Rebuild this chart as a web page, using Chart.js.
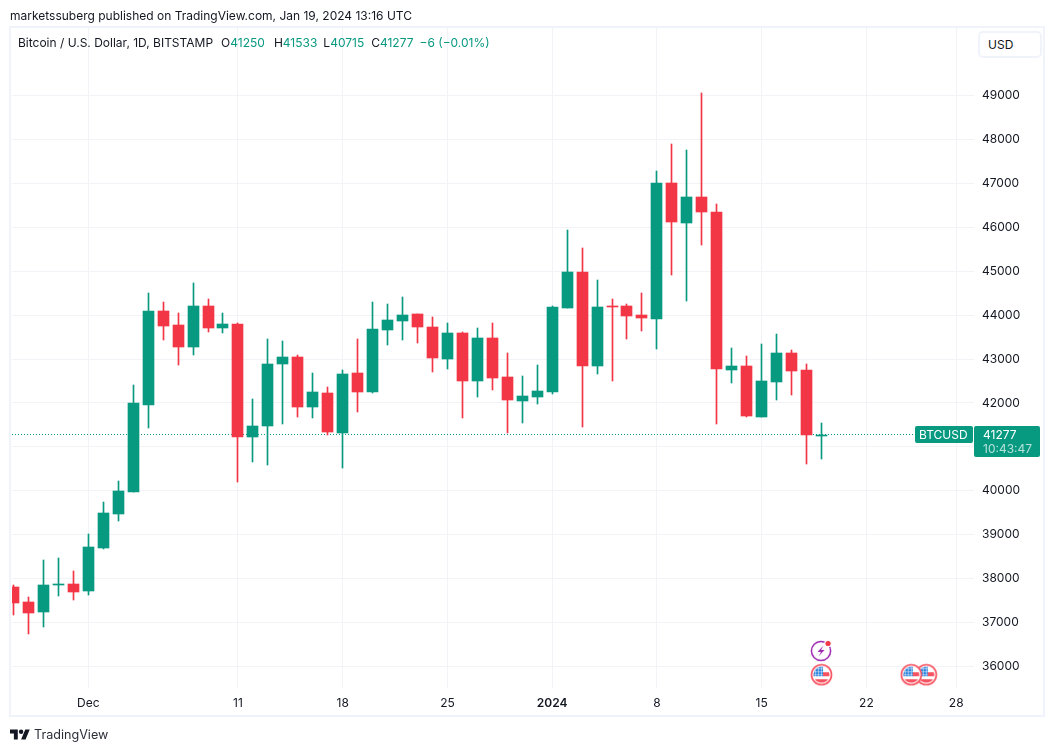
<!DOCTYPE html>
<html>
<head>
<meta charset="utf-8">
<title>BTCUSD</title>
<script src="https://cdn.jsdelivr.net/npm/chart.js@4"></script>
<style>
  html, body { margin: 0; padding: 0; background: #fff; }
  body { width: 1054px; height: 751px; position: relative; overflow: hidden; font-family: Inter, sans-serif; color: #131722; }
  canvas { position: absolute; left: 0; top: 0; }
  .frame { position: absolute; left: 9px; top: 26px; width: 1032px; height: 687px; border: 2px solid #f0f3fa; pointer-events: none; }
  .published { position: absolute; left: 10px; top: 8px; font-size: 12px; line-height: 16px; white-space: nowrap; }
  .legend { position: absolute; left: 18px; top: 35px; font-size: 12px; line-height: 16px; white-space: nowrap; }
  .legend b { font-weight: 400; margin-left: 7px; }
  .legend b:nth-child(1) { margin-left: 8px; }
  .legend b:nth-child(2) { margin-left: 9px; }
  .legend b:nth-child(3) { margin-left: 6px; }
  .legend b:nth-child(5) { margin-left: 6px; }
  .legend span { color: #089981; }
  .usd { position: absolute; left: 978px; top: 31px; width: 60px; height: 23px; border: 2px solid #f0f3fa; border-radius: 5px; background: #fff; font-size: 12px; line-height: 23px; text-indent: 8px; }
  .brand { position: absolute; left: 10px; top: 726px; height: 16px; display: flex; align-items: center; font-size: 12.6px; color: #2a2e39; }
  .brand svg { margin-right: 4px; }
</style>
</head>
<body>
<canvas id="chart" width="1054" height="751"></canvas>
<div class="frame"></div>
<div class="published">marketssuberg published on TradingView.com, Jan 19, 2024 13:16 UTC</div>
<div class="legend">Bitcoin / U.S. Dollar, 1D, BITSTAMP<b>O<span>41250</span></b><b>H<span>41533</span></b><b>L<span>40715</span></b><b>C<span>41277</span></b><b><span>−6 (−0.01%)</span></b></div>
<div class="usd">USD</div>
<div class="brand">
  <svg width="20" height="11" viewBox="0 4 36 18"><path fill="#131722" d="M14 22H7V11H0V4h14v18zM28 22h-8l7.5-18h8L28 22z"/><circle fill="#131722" cx="20" cy="8" r="4"/></svg>
  TradingView
</div>

<script>
const dates = ['Nov 26','Nov 27','Nov 28','Nov 29','Nov 30',
  'Dec 1','Dec 2','Dec 3','Dec 4','Dec 5','Dec 6','Dec 7','Dec 8','Dec 9','Dec 10',
  'Dec 11','Dec 12','Dec 13','Dec 14','Dec 15','Dec 16','Dec 17','Dec 18','Dec 19','Dec 20',
  'Dec 21','Dec 22','Dec 23','Dec 24','Dec 25','Dec 26','Dec 27','Dec 28','Dec 29','Dec 30','Dec 31',
  'Jan 1','Jan 2','Jan 3','Jan 4','Jan 5','Jan 6','Jan 7','Jan 8','Jan 9','Jan 10',
  'Jan 11','Jan 12','Jan 13','Jan 14','Jan 15','Jan 16','Jan 17','Jan 18','Jan 19',
  'Jan 20','Jan 21','Jan 22','Jan 23','Jan 24','Jan 25','Jan 26','Jan 27','Jan 28'];

const opens = [37812,37470,37242,37857,37880,37721,38700,39475,39976,41957,44099,43780,43279,44213,43711,
  43803,41229,41479,42891,43051,41912,42231,41320,42686,42254,43666,43871,44030,43734,43005,
  43598,42504,43484,42595,42049,42128,42242,44156,44976,42835,44201,44201,43996,43905,47003,
  46092,46684,46342,42743,42835,41673,42470,43131,42743,41250];
const highs = [37857,37584,38427,38472,38176,39019,39748,40226,42413,44509,44304,44053,44737,44372,44053,
  43825,42094,43461,43415,43096,42686,42368,42755,43461,44304,44258,44418,44030,43962,43825,
  43620,43711,43825,43142,42618,42857,44201,45932,45522,44793,44361,44247,44497,47276,47891,
  47755,49053,46525,43245,43062,43336,43563,43199,42880,41533];
const lows = [37174,36741,36901,37607,37516,37629,38677,39315,39976,41434,43438,42869,43096,43620,43598,
  40203,40659,40591,41525,41684,41661,41274,40522,41798,42231,43324,43438,43370,42709,42778,
  41661,42140,42299,41320,41547,41969,42197,44156,41445,42652,42493,43449,43632,43222,44907,
  44315,45591,41513,42447,41680,41673,42060,42174,40602,40715];
const closes = [37455,37220,37857,37885,37698,38723,39497,39999,42003,44099,43757,43279,44213,43711,43803,
  41229,41479,42891,43051,41912,42254,41342,42664,42254,43689,43894,44008,43734,43028,43598,
  42504,43484,42573,42071,42162,42265,44178,44976,42835,44178,44178,43973,43928,47003,46115,
  46684,46342,42766,42835,41695,42493,43131,42721,41270,41277];

const tickDates = ['Dec 1','Dec 11','Dec 18','Dec 25','Jan 1','Jan 8','Jan 15','Jan 22','Jan 28'];
const tickLabels = ['Dec','11','18','25','2024','8','15','22','28'];
const priceTicks = [36000,37000,38000,39000,40000,41000,42000,43000,44000,45000,46000,47000,48000,49000];

const eventDates = ['Jan 26','Jan 25','Jan 19'];
const eventPrices = [35811,35811,35811];
const alertDates = ['Jan 19'];
const alertPrices = [36365];

const up = '#089981';
const down = '#f23645';
const gridColor = '#f2f3f7';
const textColor = '#131722';

const dayOf = d => dates.indexOf(d);
const candleColors = opens.map((o, i) => closes[i] >= o ? up : down);
const wicks = lows.map((l, i) => ({ x: i, y: [l, highs[i]] }));
const bodies = opens.map((o, i) => ({ x: i, y: [o, closes[i]] }));
const lastClose = closes[closes.length - 1];

function flagIcon() {
  const c = document.createElement('canvas');
  c.width = c.height = 23;
  const g = c.getContext('2d');
  g.beginPath(); g.arc(11.5, 11.5, 10.5, 0, 7); g.fillStyle = '#fff'; g.fill();
  g.save();
  g.beginPath(); g.arc(11.5, 11.5, 8, 0, 7); g.clip();
  g.fillStyle = '#fff'; g.fillRect(0, 0, 23, 23);
  g.fillStyle = '#f7525f';
  g.fillRect(3, 9, 17, 4);
  g.fillRect(3, 16, 17, 5);
  g.fillStyle = '#2e86de'; g.fillRect(3, 3, 10, 10);
  g.fillStyle = 'rgba(255,255,255,.45)';
  for (let i = 5; i < 13; i += 3) { g.fillRect(i, 3, 1, 10); g.fillRect(3, i, 10, 1); }
  g.restore();
  g.beginPath(); g.arc(11.5, 11.5, 10, 0, 7); g.lineWidth = 1.6; g.strokeStyle = '#f7525f'; g.stroke();
  return c;
}

function alertIcon() {
  const c = document.createElement('canvas');
  c.width = c.height = 25;
  const g = c.getContext('2d');
  g.beginPath(); g.arc(12, 13, 9.6, 0, 7); g.lineWidth = 1.5; g.strokeStyle = '#9c27b0'; g.stroke();
  g.beginPath();
  g.moveTo(14.5, 7.5); g.lineTo(8.5, 14); g.lineTo(12, 14); g.lineTo(9.5, 18.5); g.lineTo(15.5, 12); g.lineTo(12, 12);
  g.closePath(); g.fillStyle = '#9c27b0'; g.fill();
  g.beginPath(); g.arc(19, 5.5, 3.8, 0, 7); g.fillStyle = '#fff'; g.fill();
  g.beginPath(); g.arc(19, 5.5, 2.6, 0, 7); g.fillStyle = down; g.fill();
  return c;
}

// keeps candles sharp, the price scale is not a whole number of pixels per day
const snapBars = {
  id: 'snapBars',
  afterDatasetsUpdate(chart) {
    [0, 1].forEach(d => chart.getDatasetMeta(d).data.forEach(el => {
      el.x = Math.round(el.x - 0.5) + 0.5;
      el.y = Math.round(el.y);
      el.base = Math.round(el.base);
    }));
  }
};

const lastPrice = {
  id: 'lastPrice',
  beforeDatasetsDraw(chart) {
    const { ctx, chartArea, scales } = chart;
    const y = Math.floor(scales.y.getPixelForValue(lastClose)) + 0.5;
    ctx.save();
    ctx.strokeStyle = up;
    ctx.lineWidth = 1;
    ctx.setLineDash([1, 2]);
    ctx.beginPath();
    ctx.moveTo(chartArea.left, y);
    ctx.lineTo(915, y);
    ctx.stroke();
    ctx.restore();
  },
  afterDraw(chart) {
    const { ctx, scales } = chart;
    const y = Math.floor(scales.y.getPixelForValue(lastClose));
    ctx.save();
    ctx.fillStyle = up;
    ctx.beginPath(); ctx.roundRect(915, y - 8, 58, 17, 2); ctx.fill();
    ctx.beginPath(); ctx.roundRect(974, y - 8, 66, 31, 2); ctx.fill();
    ctx.font = '12px Inter';
    ctx.textBaseline = 'middle';
    ctx.fillStyle = '#fff';
    ctx.fillText('BTCUSD', 919, y + 1);
    ctx.fillText(String(lastClose), 983, y + 1);
    ctx.fillStyle = 'rgba(255,255,255,.7)';
    ctx.fillText('10:43:47', 983, y + 15);
    ctx.restore();
  }
};

const ctx = document.getElementById('chart').getContext('2d');
new Chart(ctx, {
  type: 'bar',
  plugins: [snapBars, lastPrice],
  data: {
    datasets: [
      { data: wicks, backgroundColor: candleColors, barThickness: 1, grouped: false, order: 3 },
      { data: bodies, backgroundColor: candleColors, barThickness: 11, grouped: false, order: 2 },
      {
        type: 'scatter', order: 1, showLine: false,
        data: eventDates.map((d, i) => ({ x: dayOf(d), y: eventPrices[i] })),
        pointStyle: flagIcon(), pointRadius: 11
      },
      {
        type: 'scatter', order: 0, showLine: false,
        data: alertDates.map((d, i) => ({ x: dayOf(d), y: alertPrices[i] })),
        pointStyle: alertIcon(), pointRadius: 11
      }
    ]
  },
  options: {
    responsive: false,
    animation: false,
    layout: { padding: { left: 11, top: 28, right: 11, bottom: 36 } },
    plugins: { legend: { display: false }, tooltip: { enabled: false } },
    scales: {
      x: {
        type: 'linear',
        offset: false,
        min: -0.1,
        max: 64.19,
        border: { display: false },
        grid: { color: gridColor, drawTicks: false, offset: false },
        afterBuildTicks: axis => { axis.ticks = tickDates.map(d => ({ value: dayOf(d) })); },
        afterFit: axis => { axis.height = 27; },
        ticks: {
          autoSkip: false,
          maxRotation: 0,
          padding: 8,
          color: textColor,
          font: c => ({ family: 'Inter', size: 12, weight: c.tick && c.tick.value === dayOf('Jan 1') ? '600' : '400' }),
          callback: value => tickLabels[tickDates.indexOf(dates[value])]
        }
      },
      y: {
        position: 'right',
        min: 35508,
        max: 50542,
        border: { display: false },
        grid: { color: gridColor, drawTicks: false },
        afterBuildTicks: axis => { axis.ticks = priceTicks.map(v => ({ value: v })); },
        afterFit: axis => { axis.width = 69; },
        ticks: {
          padding: 8,
          color: textColor,
          font: { family: 'Inter', size: 12 },
          callback: value => String(value)
        }
      }
    }
  }
});
</script>
</body>
</html>
